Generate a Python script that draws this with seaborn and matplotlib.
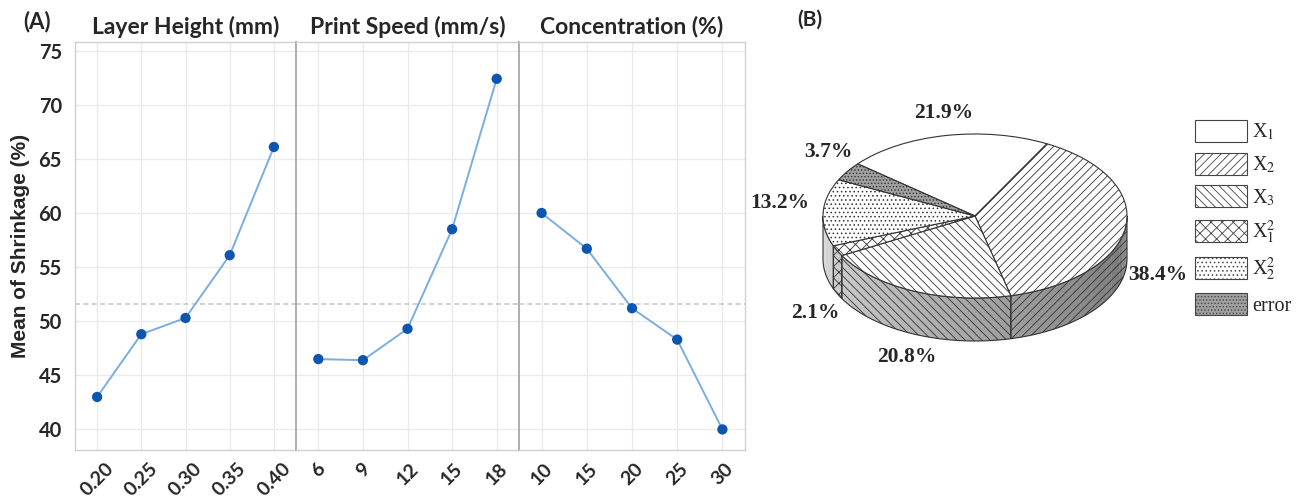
import numpy as np
import matplotlib.pyplot as plt
import seaborn as sns
from matplotlib.patches import Wedge, Polygon, Patch
from matplotlib.transforms import Affine2D

sns.set_theme(style='white')
plt.rcParams['font.family'] = ['Lato', 'DejaVu Sans']
plt.rcParams['mathtext.fontset'] = 'stix'
plt.rcParams['hatch.linewidth'] = 0.6
plt.rcParams['hatch.color'] = '#333333'

# (A) main effects
layer_height = ['0.20', '0.25', '0.30', '0.35', '0.40']
shrink_layer = [43.0, 48.8, 50.3, 56.1, 66.1]
print_speed = ['6', '9', '12', '15', '18']
shrink_speed = [46.5, 46.4, 49.3, 58.5, 72.4]
concentration = ['10', '15', '20', '25', '30']
shrink_conc = [60.0, 56.7, 51.2, 48.3, 40.0]
mean_shrink = 51.6
panel_titles = ['Layer Height (mm)', 'Print Speed (mm/s)', 'Concentration (%)']

# (B) contribution of each term
terms = ['X$_1$', 'X$_2$', 'X$_3$', 'X$_1^2$', 'X$_2^2$', 'error']
contrib = [21.9, 38.4, 20.8, 2.1, 13.2, 3.7]

fig = plt.figure(figsize=(13.01, 4.99), dpi=100)

# ---- left: main effects plot ----
bounds = [75, 296, 519, 745]
top, bottom = 42, 450
panels = [(layer_height, shrink_layer), (print_speed, shrink_speed), (concentration, shrink_conc)]
for i, (cats, vals) in enumerate(panels):
    x0, x1 = bounds[i] / 1301, bounds[i + 1] / 1301
    ax = fig.add_axes([x0, 1 - bottom / 499, x1 - x0, (bottom - top) / 499])
    pos = np.arange(len(cats))
    ax.axhline(mean_shrink, color='#c8c8c8', ls=(0, (3, 2)), lw=1.2, zorder=1)
    sns.lineplot(x=pos, y=vals, ax=ax, color='#7aaee0', lw=1.4, zorder=2)
    sns.scatterplot(x=pos, y=vals, ax=ax, color='#0d56b0', s=55, edgecolor='none', zorder=3)
    ax.set_xlim(-0.5, 4.5)
    ax.set_ylim(38.1, 75.8)
    ax.set_xticks(pos)
    ax.set_xticklabels(cats, rotation=45, fontsize=14, fontweight='bold')
    ax.set_yticks(np.arange(40, 80, 5))
    ax.grid(True, color='#ebebeb', lw=1)
    ax.set_axisbelow(True)
    ax.set_title(panel_titles[i], fontsize=16.5, fontweight='bold', pad=6)
    for s in ax.spines.values():
        s.set_color('#d0d0d0')
        s.set_linewidth(1)
    if i == 0:
        ax.tick_params(axis='y', labelsize=14.5)
        for t in ax.get_yticklabels():
            t.set_fontweight('bold')
        ax.set_ylabel('Mean of Shrinkage (%)', fontsize=15, fontweight='bold',
                      family=['Liberation Sans', 'DejaVu Sans'], labelpad=6)
    else:
        ax.tick_params(axis='y', left=False, labelleft=False)
        ax.spines['left'].set_color('#a8a8a8')
        ax.spines['left'].set_linewidth(1.3)
    ax.tick_params(axis='x', pad=1)

fig.text(23 / 1301, 1 - 22 / 499, '(A)', fontsize=16, fontweight='bold', va='center')
fig.text(797 / 1301, 1 - 20 / 499, '(B)', fontsize=15, fontweight='bold', va='center')

# ---- right: 3D-looking pie ----
pax = fig.add_axes([750 / 1301, 0, 551 / 1301, 1])
pax.set_xlim(750, 1301)
pax.set_ylim(0, 499)
pax.axis('off')

cx, cy, rx, ry, depth = 975, 499 - 216, 152, 82, 43
top_face = ['white', 'white', 'white', 'white', 'white', '#a0a0a0']
hatches = [None, '////', '\\\\\\\\', 'xxx', '....', '.....']
side_hatches = [None, '////', '\\\\\\\\', 'xxx', None, None]

start = 140.5
angles = [start]
for c in contrib:
    angles.append(angles[-1] - c / sum(contrib) * 360)


def side_pts(lo, hi, n=60):
    th = np.radians(np.linspace(lo, hi, n))
    xs = cx + rx * np.cos(th)
    ys = cy + ry * np.sin(th)
    return np.column_stack([np.r_[xs, xs[::-1]], np.r_[ys, ys[::-1] - depth]])


# side walls for the front (lower) half, shaded darker toward the right
for k in range(len(contrib)):
    a_hi, a_lo = angles[k], angles[k + 1]
    for off in (0, -360, 360):
        lo, hi = max(a_lo + off, -180), min(a_hi + off, 0)
        if hi <= lo:
            continue
        edges = np.linspace(lo, hi, max(2, int((hi - lo) / 2) + 1))
        for e0, e1 in zip(edges[:-1], edges[1:]):
            t = ((e0 + e1) / 2 + 180) / 180
            g = 0.86 - 0.42 * t
            pax.add_patch(Polygon(side_pts(e0, e1 + 0.3, 6), closed=True, facecolor=(g, g, g),
                                  edgecolor='none', zorder=1))
        pax.add_patch(Polygon(side_pts(lo, hi), closed=True, facecolor='none', edgecolor='#333333',
                              lw=0.8, hatch=side_hatches[k], zorder=1.5))

tr = Affine2D().scale(rx, ry).translate(cx, cy) + pax.transData
for k in range(len(contrib)):
    w = Wedge((0, 0), 1, angles[k + 1], angles[k], facecolor=top_face[k], edgecolor='#333333',
              lw=0.8, hatch=hatches[k], zorder=2)
    w.set_transform(tr)
    pax.add_patch(w)

label_xy = [(944, 113), (1158, 275), (907, 357), (815, 313), (780, 203), (828, 152)]
for (lx, ly), c in zip(label_xy, contrib):
    pax.text(lx, 499 - ly, f'{c}%', ha='center', va='center', fontsize=15.5, fontweight='bold',
             family=['Liberation Serif', 'DejaVu Serif'])

handles = [Patch(facecolor=top_face[k], edgecolor='#444444', hatch=hatches[k], lw=0.8)
           for k in range(len(terms))]
fig.legend(handles, terms, loc='upper left', bbox_to_anchor=(1195 / 1301, 1 - 120 / 499),
           frameon=False, borderpad=0, borderaxespad=0, handlelength=2.58, handleheight=1.29,
           labelspacing=0.5, handletextpad=0.25,
           prop={'family': ['Liberation Serif', 'DejaVu Serif'], 'size': 14.5})

fig.savefig('out.png', dpi=100)
